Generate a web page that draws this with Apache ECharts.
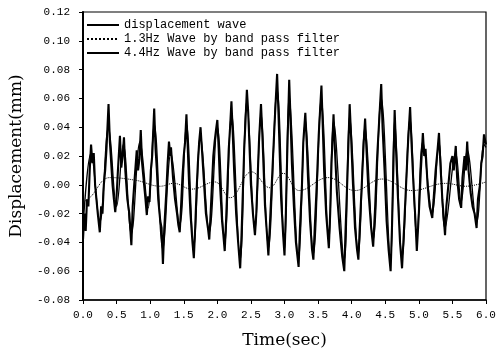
<!DOCTYPE html>
<html>
<head>
<meta charset="utf-8">
<script src="https://cdn.jsdelivr.net/npm/echarts@6/dist/echarts.min.js"></script>
<style>
  html, body { margin: 0; padding: 0; background: #fff; }
  #chart { width: 502px; height: 354px; }
</style>
</head>
<body>
<div id="chart"></div>
<script>
// values: [time (sec), displacement (mm)]
const seriesNames = [
  "displacement wave",
  "1.3Hz Wave by band pass filter",
  "4.4Hz Wave by band pass filter",
];

const displacement = [
  [0.00,-0.038],[0.02,-0.020],[0.04,-0.032],[0.06,-0.010],[0.08,-0.015],[0.10,0.010],
  [0.12,0.028],[0.14,0.015],[0.16,0.022],[0.18,0.000],[0.20,-0.010],[0.22,-0.020],
  [0.25,-0.033],[0.27,-0.015],[0.29,-0.020],[0.31,0.000],[0.33,0.010],[0.35,0.025],
  [0.38,0.056],[0.40,0.030],[0.42,0.015],[0.44,0.000],[0.46,-0.010],[0.48,-0.019],
  [0.50,-0.008],[0.52,0.010],[0.55,0.034],[0.57,0.012],[0.59,0.020],[0.61,0.033],
  [0.63,0.010],[0.66,-0.010],[0.69,-0.020],[0.72,-0.042],[0.74,-0.015],[0.77,0.005],
  [0.80,0.024],[0.82,0.010],[0.84,0.018],[0.86,0.038],[0.88,0.015],[0.91,0.000],
  [0.93,-0.010],[0.95,-0.021],[0.97,-0.008],[0.99,-0.012],[1.01,0.010],[1.03,0.020],
  [1.06,0.053],[1.08,0.025],[1.10,0.010],[1.12,-0.010],[1.15,-0.025],[1.17,-0.030],
  [1.19,-0.055],[1.21,-0.030],[1.24,-0.005],[1.26,0.015],[1.28,0.030],[1.30,0.020],
  [1.31,0.026],[1.34,0.005],[1.37,-0.010],[1.40,-0.020],[1.42,-0.028],[1.44,-0.033],
  [1.46,-0.015],[1.48,0.005],[1.50,0.020],[1.52,0.030],[1.54,0.049],[1.56,0.025],
  [1.58,0.000],[1.60,-0.020],[1.63,-0.040],[1.65,-0.051],[1.67,-0.030],[1.69,-0.005],
  [1.71,0.015],[1.73,0.030],[1.75,0.040],[1.77,0.025],[1.79,0.010],[1.81,-0.005],
  [1.83,-0.020],[1.86,-0.030],[1.88,-0.038],[1.90,-0.020],[1.92,0.000],[1.94,0.020],
  [1.96,0.030],[1.98,0.038],[2.00,0.045],[2.02,0.025],[2.04,0.000],[2.07,-0.025],
  [2.09,-0.035],[2.11,-0.046],[2.13,-0.025],[2.15,0.000],[2.17,0.025],[2.19,0.040],
  [2.21,0.058],[2.23,0.035],[2.25,0.010],[2.28,-0.020],[2.31,-0.040],[2.34,-0.058],
  [2.36,-0.035],[2.38,-0.005],[2.40,0.025],[2.42,0.045],[2.44,0.066],[2.46,0.050],
  [2.48,0.025],[2.50,0.000],[2.53,-0.020],[2.56,-0.035],[2.58,-0.020],[2.60,0.005],
  [2.62,0.030],[2.65,0.056],[2.67,0.035],[2.69,0.010],[2.71,-0.015],[2.74,-0.035],
  [2.76,-0.049],[2.78,-0.030],[2.81,0.000],[2.84,0.030],[2.86,0.050],[2.89,0.077],
  [2.91,0.050],[2.93,0.020],[2.95,-0.010],[2.98,-0.035],[3.00,-0.049],[3.02,-0.020],
  [3.04,0.020],[3.07,0.073],[3.09,0.045],[3.11,0.015],[3.14,-0.015],[3.17,-0.040],
  [3.21,-0.057],[3.23,-0.030],[3.26,0.000],[3.28,0.030],[3.31,0.050],[3.33,0.030],
  [3.35,0.005],[3.38,-0.025],[3.41,-0.045],[3.43,-0.052],[3.45,-0.030],[3.48,0.000],
  [3.51,0.035],[3.55,0.069],[3.57,0.040],[3.59,0.010],[3.62,-0.020],[3.66,-0.044],
  [3.68,-0.020],[3.70,0.015],[3.73,0.049],[3.75,0.025],[3.78,-0.005],[3.82,-0.030],
  [3.86,-0.050],[3.89,-0.060],[3.91,-0.030],[3.94,0.010],[3.97,0.056],[3.99,0.035],
  [4.02,0.000],[4.05,-0.030],[4.08,-0.045],[4.10,-0.052],[4.12,-0.030],[4.15,0.000],
  [4.18,0.030],[4.20,0.046],[4.22,0.025],[4.25,-0.005],[4.29,-0.030],[4.32,-0.043],
  [4.35,-0.015],[4.38,0.020],[4.41,0.045],[4.44,0.070],[4.46,0.040],[4.49,0.010],
  [4.52,-0.025],[4.55,-0.045],[4.58,-0.060],[4.60,-0.030],[4.62,0.010],[4.64,0.052],
  [4.66,0.025],[4.69,-0.010],[4.72,-0.040],[4.75,-0.058],[4.78,-0.030],[4.81,0.000],
  [4.84,0.030],[4.87,0.054],[4.89,0.030],[4.92,0.000],[4.95,-0.025],[4.97,-0.046],
  [5.00,-0.020],[5.03,0.010],[5.06,0.036],[5.08,0.020],[5.10,0.025],[5.13,0.000],
  [5.16,-0.015],[5.20,-0.023],[5.22,-0.010],[5.25,0.010],[5.28,0.025],[5.30,0.036],
  [5.32,0.015],[5.35,-0.010],[5.39,-0.035],[5.41,-0.015],[5.44,0.000],[5.47,0.015],
  [5.50,0.020],[5.52,0.010],[5.55,0.027],[5.57,0.005],[5.60,-0.010],[5.63,-0.016],
  [5.65,0.005],[5.68,0.020],[5.70,0.010],[5.72,0.030],[5.74,0.010],[5.77,-0.005],
  [5.80,-0.015],[5.83,-0.020],[5.86,-0.030],[5.88,-0.010],[5.91,0.000],[5.93,0.015],
  [5.95,0.020],[5.97,0.035],[6.00,0.028],
];

const wave13 = [
  [0.00,-0.012],[0.10,-0.009],[0.40,0.005],[0.80,0.003],[1.15,-0.001],[1.35,0.001],
  [1.62,-0.003],[1.96,0.002],[2.19,-0.009],[2.51,0.009],[2.78,-0.002],[2.98,0.008],
  [3.22,-0.004],[3.65,0.005],[4.05,-0.004],[4.45,0.004],[4.90,-0.004],[5.40,0.001],
  [5.70,-0.001],[6.00,0.002],
];

const wave44 = [
  [0.00,-0.030],[0.12,0.022],[0.25,-0.026],[0.38,0.040],[0.50,-0.015],[0.60,0.028],
  [0.72,-0.034],[0.85,0.030],[0.97,-0.016],[1.06,0.042],[1.19,-0.045],[1.31,0.022],
  [1.44,-0.028],[1.54,0.042],[1.65,-0.044],[1.75,0.034],[1.88,-0.033],[2.00,0.040],
  [2.11,-0.042],[2.21,0.050],[2.34,-0.052],[2.44,0.058],[2.56,-0.032],[2.65,0.050],
  [2.76,-0.044],[2.89,0.066],[3.00,-0.045],[3.07,0.062],[3.21,-0.052],[3.31,0.045],
  [3.43,-0.048],[3.55,0.060],[3.66,-0.040],[3.73,0.044],[3.89,-0.052],[3.97,0.048],
  [4.10,-0.048],[4.20,0.040],[4.32,-0.038],[4.44,0.060],[4.58,-0.052],[4.64,0.045],
  [4.75,-0.050],[4.87,0.046],[4.97,-0.038],[5.06,0.030],[5.20,-0.020],[5.30,0.030],
  [5.39,-0.030],[5.55,0.022],[5.63,-0.012],[5.72,0.024],[5.86,-0.026],[5.97,0.028],
  [6.00,0.026],
];

const MONO  = "'Liberation Mono', 'DejaVu Sans Mono', monospace";
const SERIF = "'DejaVu Serif', serif";

const chart = echarts.init(document.getElementById("chart"), null, { renderer: "canvas" });

chart.setOption({
  backgroundColor: "#fff",
  animation: false,
  grid: { left: 83, right: 16, top: 12, bottom: 48, show: true, borderColor: "#000", borderWidth: 1.2 },
  legend: {
    left: 86, top: 19, orient: "vertical", padding: 0,
    itemWidth: 32, itemHeight: 10, itemGap: 2,
    itemStyle: { opacity: 0 },
    textStyle: { fontFamily: MONO, fontSize: 12, color: "#000" },
    data: seriesNames,
  },
  xAxis: {
    type: "value", min: 0, max: 6, interval: 0.5,
    name: "Time(sec)", nameLocation: "middle", nameGap: 32,
    nameTextStyle: { fontFamily: SERIF, fontSize: 17, color: "#000" },
    axisLine: { onZero: false, lineStyle: { color: "#000", width: 1.5 } },
    axisTick: { inside: false, length: 4, lineStyle: { color: "#000" } },
    axisLabel: { margin: 10, fontFamily: MONO, fontSize: 11, color: "#000",
                 formatter: v => v.toFixed(1) },
    splitLine: { show: false },
  },
  yAxis: {
    type: "value", min: -0.08, max: 0.12, interval: 0.02,
    name: "Displacement(mm)", nameLocation: "middle", nameGap: 58,
    nameTextStyle: { fontFamily: SERIF, fontSize: 17, color: "#000" },
    axisLine: { show: true, onZero: false, lineStyle: { color: "#000", width: 2 } },
    axisTick: { show: true, inside: false, length: 4, lineStyle: { color: "#000" } },
    axisLabel: { margin: 13, fontFamily: MONO, fontSize: 11, color: "#000",
                 formatter: v => v.toFixed(2) },
    splitLine: { show: false },
  },
  series: [
    {
      name: seriesNames[0], type: "line", data: displacement, symbol: "none",
      lineStyle: { color: "#000", width: 2.1 }, itemStyle: { color: "#000" },
    },
    {
      name: seriesNames[1], type: "line", data: wave13, symbol: "none", smooth: 0.4,
      lineStyle: { color: "#000", width: 1, type: "dotted" }, itemStyle: { color: "#000" },
    },
    {
      name: seriesNames[2], type: "line", data: wave44, symbol: "none", smooth: 0.4,
      lineStyle: { color: "#000", width: 1.3 }, itemStyle: { color: "#000" },
    },
  ],
});
</script>
</body>
</html>
